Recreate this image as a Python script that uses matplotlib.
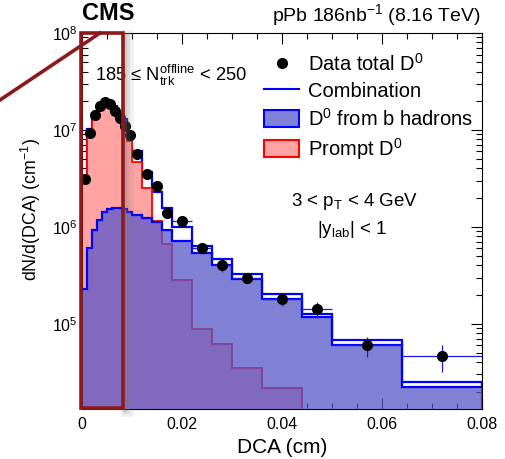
import matplotlib
matplotlib.use("Agg")
import matplotlib.pyplot as plt
import numpy as np
from matplotlib.lines import Line2D
from matplotlib.patches import Patch, Rectangle
from matplotlib.ticker import MultipleLocator, LogLocator, FuncFormatter, NullFormatter

plt.rcParams['font.family'] = ['Liberation Sans', 'DejaVu Sans']
plt.rcParams['mathtext.fontset'] = 'custom'
plt.rcParams['mathtext.rm'] = 'Liberation Sans'
plt.rcParams['mathtext.it'] = 'Liberation Sans:italic'
plt.rcParams['mathtext.default'] = 'regular'

# DCA bin edges (cm)
edges = [0.0, 0.001, 0.002, 0.003, 0.004, 0.005, 0.006, 0.007, 0.008, 0.009, 0.010,
         0.012, 0.014, 0.016, 0.018, 0.022, 0.026, 0.030, 0.036, 0.044, 0.050, 0.064, 0.080]

data = [3.1e6, 9.4e6, 1.43e7, 1.77e7, 1.92e7, 1.84e7, 1.57e7, 1.34e7, 1.10e7, 8.9e6,
        5.7e6, 3.5e6, 2.67e6, 1.4e6, 1.14e6, 6.0e5, 4.07e5, 2.97e5, 1.8e5, 1.42e5, 5.97e4, 4.63e4]
data_err = [6e4, 1.2e5, 1.5e5, 1.8e5, 2e5, 2e5, 1.8e5, 1.6e5, 1.4e5, 1.2e5,
            1e5, 8e4, 8e4, 6e4, 5e4, 3e4, 6.5e4, 3.5e4, 2.6e4, 2.7e4, 1.4e4, 1.45e4]

prompt = [2.94e6, 9.6e6, 1.38e7, 1.63e7, 1.76e7, 1.71e7, 1.6e7, 1.38e7, 1.14e7, 7.6e6,
          4.7e6, 2.49e6, 1.16e6, 6.6e5, 2.85e5, 8.9e4, 6.2e4, 3.47e4, 2.19e4, 8e3, 5e3, 2.5e3]
nonprompt = [2.3e5, 6.1e5, 9.2e5, 1.19e6, 1.41e6, 1.51e6, 1.58e6, 1.58e6, 1.51e6, 1.41e6,
             1.31e6, 1.22e6, 1.11e6, 9.2e5, 7.1e5, 5.42e5, 4.07e5, 2.9e5, 1.8e5, 1.17e5, 5.97e4, 2.24e4]
combination = [3.17e6, 1.02e7, 1.47e7, 1.75e7, 1.9e7, 1.86e7, 1.76e7, 1.54e7, 1.29e7, 9.0e6,
               6.0e6, 3.7e6, 2.27e6, 1.58e6, 1.0e6, 6.3e5, 4.7e5, 3.25e5, 2.02e5, 1.25e5, 6.8e4, 2.53e4]

W, H = 505, 459
fig = plt.figure(figsize=(W / 100, H / 100), dpi=100)
ax = fig.add_axes([82 / W, 1 - 409 / H, 400 / W, 376 / H])

e = np.array(edges)
centers = 0.5 * (e[1:] + e[:-1])
halfw = 0.5 * (e[1:] - e[:-1])

pink = '#ffa3a3'
bfill = (86 / 255, 86 / 255, 200 / 255)

ax.stairs(combination, edges, color='#0000ff', lw=1.6, zorder=2)
ax.stairs(prompt, edges, fill=True, baseline=1, color=pink, zorder=2.5)
ax.stairs(prompt, edges, baseline=None, color='#ff0000', lw=1.3, zorder=2.6)
ax.stairs(nonprompt, edges, fill=True, baseline=1, color=bfill, alpha=0.75, zorder=3)
ax.stairs(nonprompt, edges, baseline=None, color='#0000ff', lw=1.6, zorder=3.5)
ax.errorbar(centers, data, xerr=halfw, yerr=data_err, fmt='o', color='black',
            ecolor='#1a1ae6', elinewidth=0.9, capsize=0, markersize=7, zorder=5)

ax.set_yscale('log')
ax.set_xlim(0, 0.08)
ax.set_ylim(1.32e4, 1.0e8)

ax.xaxis.set_major_locator(MultipleLocator(0.02))
ax.xaxis.set_minor_locator(MultipleLocator(0.005))
ax.xaxis.set_major_formatter(FuncFormatter(lambda v, p: '0' if v == 0 else f'{v:g}'))
ax.yaxis.set_major_locator(LogLocator(base=10, numticks=10))
ax.yaxis.set_minor_locator(LogLocator(base=10, subs=np.arange(2, 10), numticks=20))
ax.yaxis.set_minor_formatter(NullFormatter())
ax.tick_params(which='both', direction='in', top=True, right=True, labelsize=11.5)
ax.tick_params(which='major', length=8, width=0.8)
ax.tick_params(which='minor', length=4, width=0.8)
ax.tick_params(axis='x', pad=6)
ax.tick_params(axis='y', pad=3)

handles = [
    Line2D([], [], marker='o', color='black', ls='none', markersize=7),
    Line2D([], [], color='#0000ff', lw=1.5),
    Patch(facecolor=(0.5, 0.5, 0.84), edgecolor='#0000ff', lw=1.5),
    Patch(facecolor=pink, edgecolor='#ff0000', lw=1.5),
]
labels = ['Data total D$^0$', 'Combination', 'D$^0$ from b hadrons', 'Prompt D$^0$']
ax.legend(handles, labels, loc='upper left', bbox_to_anchor=(264 / W, 1 - 53 / H),
          bbox_transform=fig.transFigure, frameon=False, fontsize=14.5,
          handlelength=1.75, handleheight=0.9, handletextpad=0.45, labelspacing=0.33,
          borderpad=0, borderaxespad=0)

fig.text(82 / W, 1 - 20 / H, 'CMS', fontsize=17, fontweight='bold', va='baseline', ha='left')
fig.text(481 / W, 1 - 21.5 / H, 'pPb 186nb$^{-1}$ (8.16 TeV)', fontsize=14, va='baseline', ha='right')
fig.text(171 / W, 1 - 81.5 / H, '185 \u2264 N$_{trk}^{offline}$ < 250', fontsize=13.2, va='baseline', ha='center')
fig.text(355 / W, 1 - 206.5 / H, '3 < p$_{T}$ < 4 GeV', fontsize=13.5, va='baseline', ha='center')
fig.text(352 / W, 1 - 234 / H, '|y$_{lab}$| < 1', fontsize=13.5, va='baseline', ha='center')
fig.text(31 / W, 1 - 209 / H, 'dN/d(DCA) (cm$^{-1}$)', fontsize=12.8, rotation=90, va='center', ha='center')
fig.text(282 / W, 1 - 438 / H, 'DCA (cm)', fontsize=15, va='top', ha='center')

# highlight box drawn over the figure, with a soft shadow on its right side
dred = '#8c1a1a'
for dx, a, lw in [(4, 0.12, 9), (3, 0.15, 5), (2.5, 0.2, 3)]:
    fig.add_artist(Line2D([(122.5 + dx) / W] * 2, [1 - 36 / H, 1 - 410 / H], transform=fig.transFigure,
                          color='gray', alpha=a, lw=lw, zorder=9))
fig.add_artist(Rectangle((80.5 / W, 1 - 408 / H), 42 / W, 375 / H,
                         transform=fig.transFigure, fill=False, edgecolor=dred,
                         lw=2.6, zorder=10))
fig.add_artist(Line2D([0 / W, 100 / W], [1 - 100 / H, 1 - 33 / H], transform=fig.transFigure,
                      color=dred, lw=2.6, zorder=10))

fig.savefig('out.png', dpi=100)
